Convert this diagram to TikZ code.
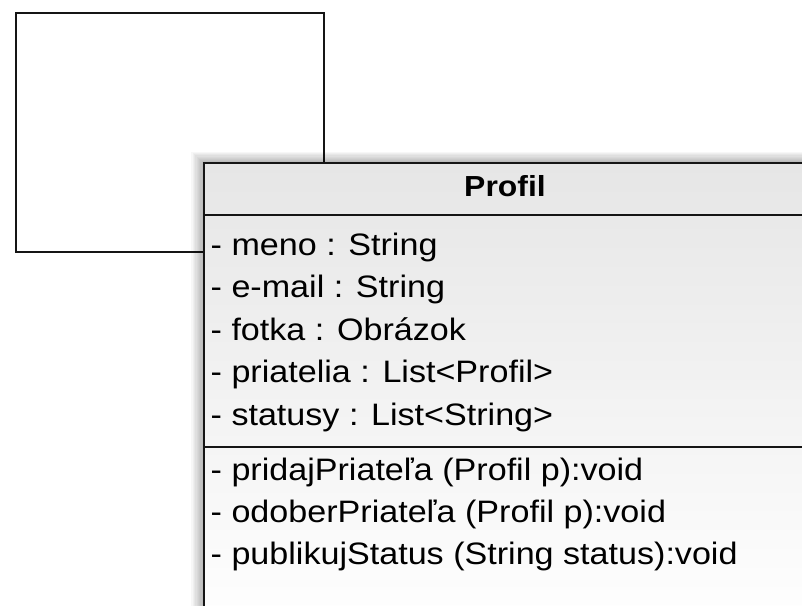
\documentclass[tikz,border=0pt]{standalone}
\usepackage{fontspec}
\setmainfont{Liberation Sans}[FakeStretch=1.10]
\definecolor{boxtop}{HTML}{E6E6E6}
\definecolor{boxmid}{HTML}{EBEBEB}
\definecolor{edge}{HTML}{151515}
\begin{document}
\begin{tikzpicture}[x=1pt,y=-1pt,
  frame/.style={draw=edge, line width=2pt},
  attr/.style={anchor=base west, inner sep=0pt, font=\fontsize{31}{31}\selectfont},
  ttl/.style={anchor=base, inner sep=0pt, font=\bfseries\fontsize{29}{29}\selectfont},
]
\clip (0,0) rectangle (802,605);
\fill[white] (0,0) rectangle (802,605);
% empty class box behind
\node[frame, anchor=north west, minimum width=308pt, minimum height=239pt, inner sep=0pt] (empty) at (15,12) {};
% soft shadow of the Profil box
\foreach \i in {1,...,9}
  \fill[black, opacity=0.03] (203-\i*1.3, 162-\i*1.1) rectangle (830,630);
% Profil class box
\node[frame, anchor=north west, minimum width=640pt, minimum height=470pt, inner sep=0pt,
      top color=boxtop, middle color=boxmid, bottom color=white] (profil) at (203,162) {};
\node[ttl] (title) at (505,196) {Profil};
\draw[frame] (profil.north west |- 0,215) -- (profil.north east |- 0,215);
\draw[frame] (profil.north west |- 0,447) -- (profil.north east |- 0,447);
\node[attr] (a1) at (210.5,255) {- meno : String};
\node[attr] (a2) at (210.5,297) {- e-mail : String};
\node[attr] (a3) at (210.5,340) {- fotka : Obrázok};
\node[attr] (a4) at (210.5,382) {- priatelia : List<Profil>};
\node[attr] (a5) at (210.5,425) {- statusy : List<String>};
\node[attr] (m1) at (210.5,480) {- pridajPriateľa (Profil p):void};
\node[attr] (m2) at (210.5,522) {- odoberPriateľa (Profil p):void};
\node[attr] (m3) at (210.5,564) {- publikujStatus (String status):void};
\end{tikzpicture}
\end{document}
